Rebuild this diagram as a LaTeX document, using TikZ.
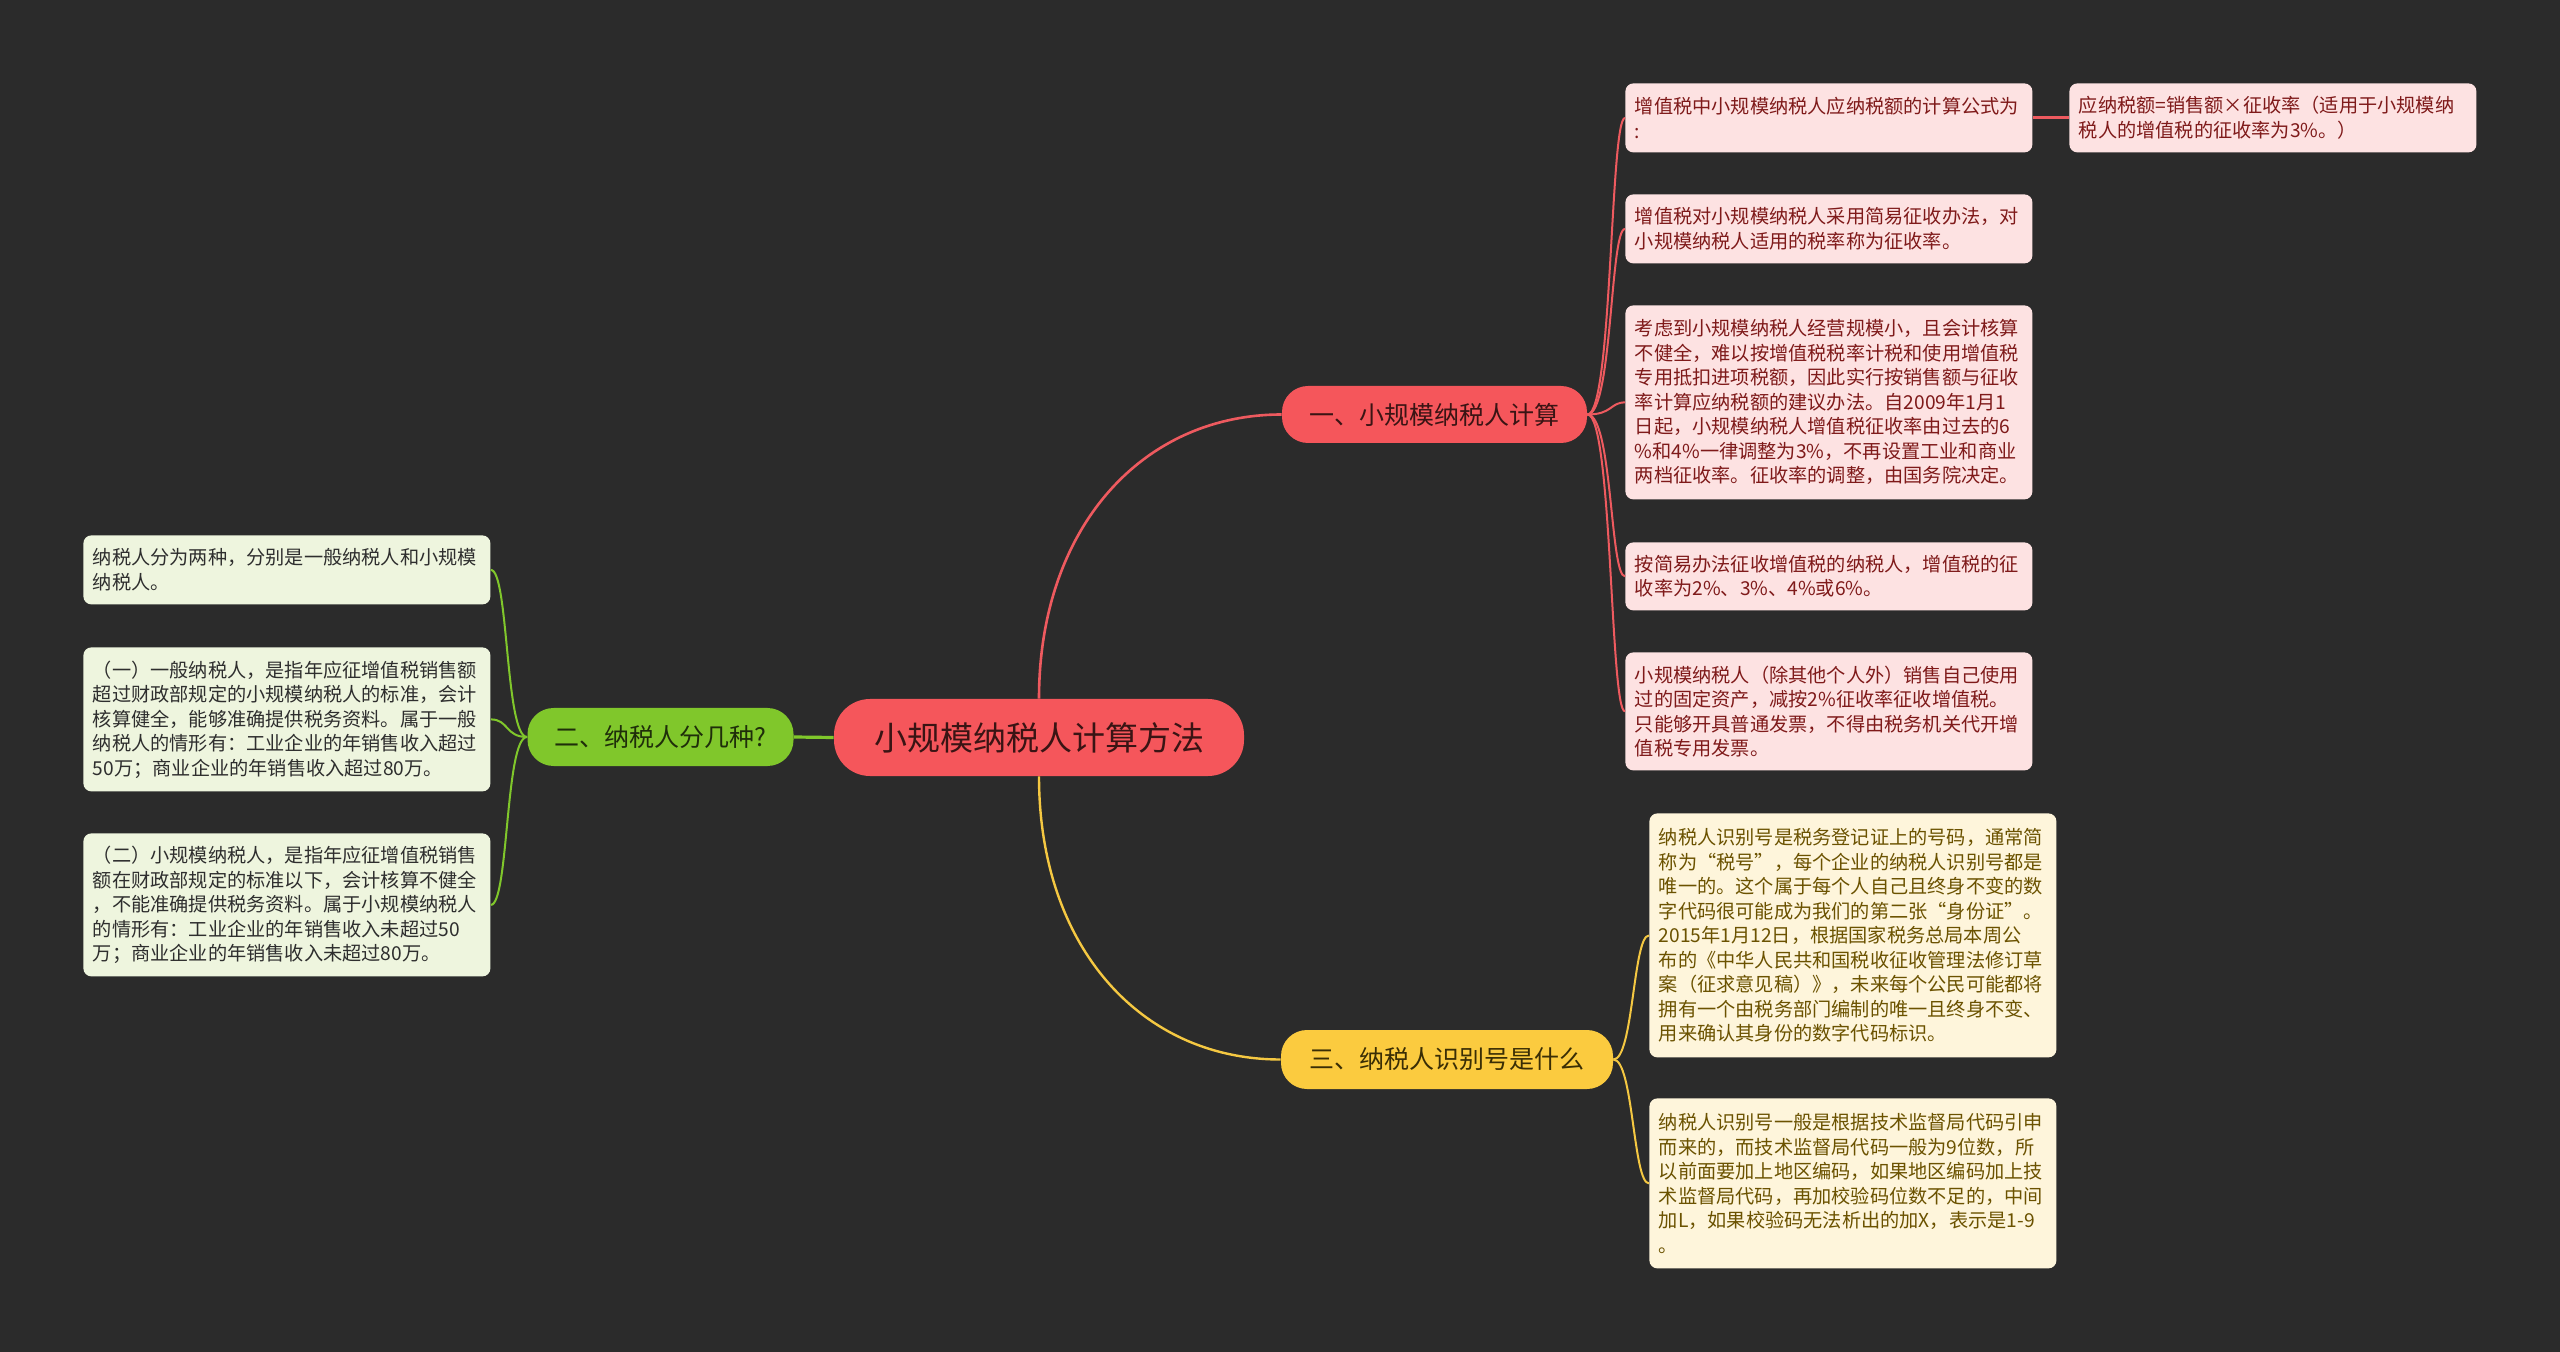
\documentclass[tikz,border=0pt]{standalone}
\usepackage{fontspec}
\setmainfont{Noto Sans CJK SC}
\definecolor{bg}{HTML}{2B2B2B}
\definecolor{redmain}{HTML}{F5565B}
\definecolor{redline}{HTML}{EE5A5F}
\definecolor{pinkleaf}{HTML}{FDE2E2}
\definecolor{redtext}{HTML}{7F1A1A}
\definecolor{darkred}{HTML}{3A1414}
\definecolor{greenmain}{HTML}{80C72B}
\definecolor{greenleaf}{HTML}{EEF5DE}
\definecolor{greentext}{HTML}{2E2E2E}
\definecolor{darkgreen}{HTML}{1F2E0A}
\definecolor{yellowmain}{HTML}{FBCB3F}
\definecolor{yellowline}{HTML}{F5C842}
\definecolor{yellowleaf}{HTML}{FEF5DB}
\definecolor{yellowtext}{HTML}{6B5200}
\definecolor{darkyellow}{HTML}{3A2E05}
\tikzset{
  leafbox/.style={anchor=north west, rounded corners=4pt, text width=194pt,
    inner xsep=4.75pt, inner ysep=3pt, align=left, minimum width=203.5pt,
    font=\fontsize{9.6}{12.25}\selectfont},
  rleaf/.style={leafbox, fill=pinkleaf, text=redtext},
  gleaf/.style={leafbox, fill=greenleaf, text=greentext},
  yleaf/.style={leafbox, fill=yellowleaf, text=yellowtext},
  branchbox/.style={rounded corners=13pt, inner xsep=0pt, inner ysep=0pt,
    font=\fontsize{12.5}{14}\selectfont},
  rconn/.style={draw=redline, line width=1pt},
  gconn/.style={draw=greenmain, line width=1pt},
  yconn/.style={draw=yellowline, line width=1pt},
}
\begin{document}
\begin{tikzpicture}[x=0.5pt,y=-0.5pt]
\fill[bg] (0,0) rectangle (2560,1352);
\useasboundingbox (0,0) rectangle (2560,1352);

% center and branches
\node[fill=redmain, text=darkred, rounded corners=18pt, minimum width=205pt, minimum height=38.5pt, font=\fontsize{16.5}{18}\selectfont] (c) at (1039,737.5) {小规模纳税人计算方法};
\node[branchbox, fill=redmain, text=darkred, minimum width=152.5pt, minimum height=28.5pt] (b1) at (1434.5,414.5) {一、小规模纳税人计算};
\node[branchbox, fill=greenmain, text=darkgreen, minimum width=133pt, minimum height=29pt] (b2) at (660.5,737) {二、纳税人分几种?};
\node[branchbox, fill=yellowmain, text=darkyellow, minimum width=166pt, minimum height=29.5pt] (b3) at (1447,1059.5) {三、纳税人识别号是什么};

% red leaves
\node[rleaf, minimum height=34.5pt] (r1) at (1625,83) {增值税中小规模纳税人应纳税额的计算公式为\\:};
\node[rleaf, minimum height=34.5pt] (r1a) at (2069,83) {应纳税额=销售额×征收率（适用于小规模纳\\税人的增值税的征收率为3\%。）};
\node[rleaf, minimum height=34.5pt] (r2) at (1625,194) {增值税对小规模纳税人采用简易征收办法，对\\小规模纳税人适用的税率称为征收率。};
\node[rleaf, minimum height=97pt] (r3) at (1625,305) {考虑到小规模纳税人经营规模小，且会计核算\\不健全，难以按增值税税率计税和使用增值税\\专用抵扣进项税额，因此实行按销售额与征收\\率计算应纳税额的建议办法。自2009年1月1\\日起，小规模纳税人增值税征收率由过去的6\\\%和4\%一律调整为3\%，不再设置工业和商业\\两档征收率。征收率的调整，由国务院决定。};
\node[rleaf, minimum height=34pt] (r4) at (1625,542) {按简易办法征收增值税的纳税人，增值税的征\\收率为2\%、3\%、4\%或6\%。};
\node[rleaf, minimum height=59pt] (r5) at (1625,652) {小规模纳税人（除其他个人外）销售自己使用\\过的固定资产，减按2\%征收率征收增值税。\\只能够开具普通发票，不得由税务机关代开增\\值税专用发票。};

% green leaves
\node[gleaf, minimum height=34.5pt] (g1) at (83,535) {纳税人分为两种，分别是一般纳税人和小规模\\纳税人。};
\node[gleaf, minimum height=72pt] (g2) at (83,647) {（一）一般纳税人，是指年应征增值税销售额\\超过财政部规定的小规模纳税人的标准，会计\\核算健全，能够准确提供税务资料。属于一般\\纳税人的情形有：工业企业的年销售收入超过\\50万；商业企业的年销售收入超过80万。};
\node[gleaf, minimum height=71.5pt] (g3) at (83,833) {（二）小规模纳税人，是指年应征增值税销售\\额在财政部规定的标准以下，会计核算不健全\\，不能准确提供税务资料。属于小规模纳税人\\的情形有：工业企业的年销售收入未超过50\\万；商业企业的年销售收入未超过80万。};

% yellow leaves
\node[yleaf, minimum height=122pt] (y1) at (1649,813) {纳税人识别号是税务登记证上的号码，通常简\\称为“税号”，每个企业的纳税人识别号都是\\唯一的。这个属于每个人自己且终身不变的数\\字代码很可能成为我们的第二张“身份证”。\\2015年1月12日，根据国家税务总局本周公\\布的《中华人民共和国税收征收管理法修订草\\案（征求意见稿）》，未来每个公民可能都将\\拥有一个由税务部门编制的唯一且终身不变、\\用来确认其身份的数字代码标识。};
\node[yleaf, minimum height=85pt] (y2) at (1649,1098) {纳税人识别号一般是根据技术监督局代码引申\\而来的，而技术监督局代码一般为9位数，所\\以前面要加上地区编码，如果地区编码加上技\\术监督局代码，再加校验码位数不足的，中间\\加L，如果校验码无法析出的加X，表示是1-9\\。};

% main connectors
\draw[redline, line width=1.3pt] (c.north) .. controls +(0,-170) and +(-140,0) .. (b1.west);
\draw[yellowline, line width=1.2pt] (c.south) .. controls +(0,170) and +(-140,0) .. (b3.west);
\draw[greenmain, line width=1.6pt] (c.west) -- (b2.east);

% leaf connectors
\foreach \n in {r1,r2,r3,r4,r5}
  \draw[rconn] (b1.east) .. controls +(25,0) and +(-15,0) .. (\n.west);
\draw[redline, line width=1.6pt] (r1.east) -- (r1a.west);
\foreach \n in {g1,g2,g3}
  \draw[gconn] (b2.west) .. controls +(-22,0) and +(18,0) .. (\n.east);
\foreach \n in {y1,y2}
  \draw[yconn] (b3.east) .. controls +(20,0) and +(-16,0) .. (\n.west);
\end{tikzpicture}
\end{document}
